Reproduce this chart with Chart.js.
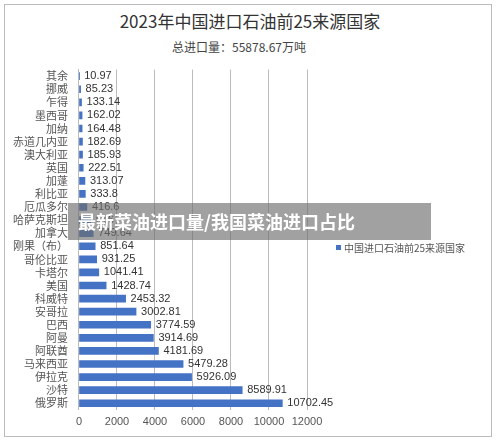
<!DOCTYPE html>
<html><head><meta charset="utf-8">
<script src="https://cdn.jsdelivr.net/npm/chart.js@4"></script>
<style>
body{margin:0;background:#fff;font-family:"Noto Sans CJK SC",sans-serif}
#box{position:absolute;left:4px;top:4px;width:488px;height:433px;border:1px solid #bbb;box-sizing:border-box}
#t{position:absolute;left:0;width:500px;top:8px;text-align:center;font-size:17px;color:#333}
#s{position:absolute;left:172px;top:38px;font-size:12px;color:#444}
#band{position:absolute;left:68px;top:203px;width:363px;height:37px;background:rgba(110,110,110,0.65);color:#fff;font-weight:bold;font-size:18px;line-height:37px;padding-left:10px;box-sizing:border-box}
#wrap{position:absolute;left:0;top:60px;width:500px;height:383px}
</style></head><body>
<div id="box"></div>
<div id="t">2023年中国进口石油前25来源国家</div>
<div id="s">总进口量：55878.67万吨</div>
<div id="wrap"><canvas id="c"></canvas></div>
<div id="band">最新菜油进口量/我国菜油进口占比</div>
<script>
const categories=["其余","挪威","乍得","墨西哥","加纳","赤道几内亚","澳大利亚","英国","加蓬","利比亚","厄瓜多尔","哈萨克斯坦","加拿大","刚果（布）","哥伦比亚","卡塔尔","美国","科威特","安哥拉","巴西","阿曼","阿联酋","马来西亚","伊拉克","沙特","俄罗斯"];
const values=[10.97,85.23,133.14,162.02,164.48,182.69,185.93,222.51,313.07,333.8,416.6,616,749.64,851.64,931.25,1041.41,1428.74,2453.32,3002.81,3774.59,3914.69,4181.69,5479.28,5926.09,8589.91,10702.45];
const seriesName="中国进口石油前25来源国家";
const labelsPlugin={id:'lbl',afterDatasetsDraw(ch){const c=ch.ctx;const m=ch.getDatasetMeta(0);c.save();c.font='11px "Liberation Sans",Arial';c.fillStyle='#333';c.textBaseline='middle';m.data.forEach((b,i)=>{c.fillText(String(values[i]),b.x+5,b.y);});
c.fillStyle='#4472C4';c.fillRect(336,185,5,5);c.fillStyle='#555';c.font='10px "Noto Sans CJK SC"';c.fillText(seriesName,344,188);c.restore();}};
new Chart(document.getElementById('c'),{type:'bar',data:{labels:categories,datasets:[{label:seriesName,data:values,backgroundColor:'#4472C4',barThickness:7}]},
options:{indexAxis:'y',responsive:true,maintainAspectRatio:false,animation:false,layout:{padding:{left:10,right:193,top:5,bottom:8}},
plugins:{legend:{display:false},tooltip:{enabled:false}},
scales:{x:{min:0,max:12000,ticks:{stepSize:2000,maxRotation:0,padding:6,color:'#555',font:{size:11,family:'"Liberation Sans",Arial'},callback:v=>String(v)},grid:{color:'#bbb',drawTicks:false},border:{display:false}},
y:{ticks:{color:'#555',font:{size:11,family:'"Noto Sans CJK SC"'},autoSkip:false},grid:{display:false},border:{color:'#bbb'}}}},plugins:[labelsPlugin]});
</script></body></html>
